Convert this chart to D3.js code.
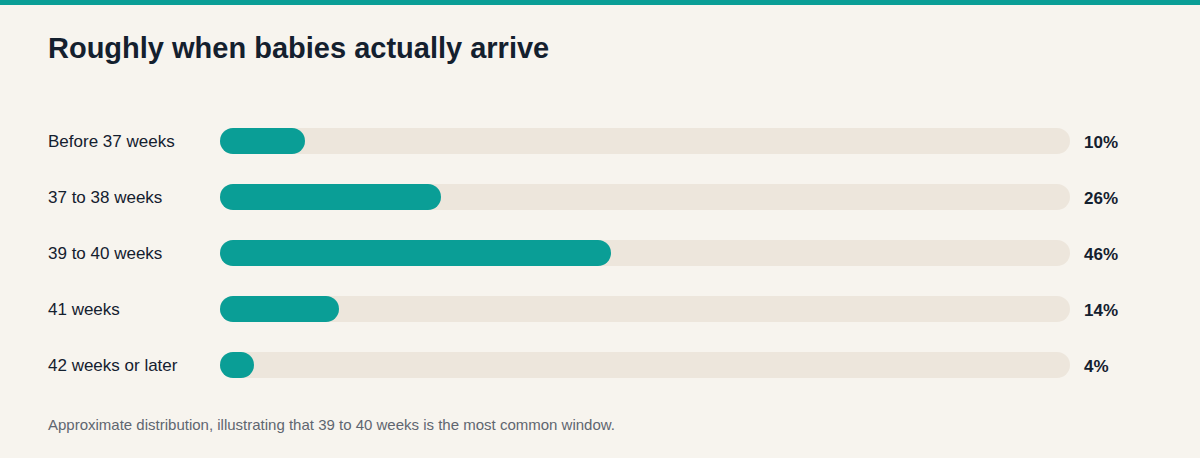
<!DOCTYPE html>
<html><head><meta charset="utf-8">
<script src="https://cdn.jsdelivr.net/npm/d3@7"></script>
<style>body{margin:0;background:#f7f4ee;font-family:"Liberation Sans",Arial,sans-serif}</style>
</head><body><svg id="c" width="1200" height="458"></svg>
<script>
const categories=["Before 37 weeks","37 to 38 weeks","39 to 40 weeks","41 weeks","42 weeks or later"];
const values=[10,26,46,14,4];
const valueLabels=["10%","26%","46%","14%","4%"];
const svg=d3.select("#c");
svg.append("rect").attr("width",1200).attr("height",458).attr("fill","#f7f4ee");
svg.append("rect").attr("width",1200).attr("height",5).attr("fill","#0a9e96");
svg.append("text").attr("x",48).attr("y",58).attr("font-size",29).attr("font-weight",700).attr("fill","#14202e").text("Roughly when babies actually arrive");
const x=d3.scaleLinear().domain([0,100]).range([220,1070]);
const y=d3.scaleBand().domain(categories).range([113,393]).paddingInner(0.536).paddingOuter(0.268);
const g=svg.selectAll(".row").data(categories).enter().append("g");
g.append("rect").attr("x",x(0)).attr("y",d=>y(d)).attr("width",x(100)-x(0)).attr("height",y.bandwidth()).attr("rx",y.bandwidth()/2).attr("fill","#ede6dc");
g.append("rect").attr("x",x(0)).attr("y",d=>y(d)).attr("width",(d,i)=>x(values[i])-x(0)).attr("height",y.bandwidth()).attr("rx",y.bandwidth()/2).attr("fill","#0a9e96");
g.append("text").attr("x",48).attr("y",d=>y(d)+y.bandwidth()/2).attr("dy","0.35em").attr("font-size",17).attr("fill","#14202e").text(d=>d);
g.append("text").attr("x",1084).attr("y",d=>y(d)+y.bandwidth()/2+1).attr("dy","0.35em").attr("font-size",17).attr("font-weight",700).attr("fill","#14202e").text((d,i)=>valueLabels[i]);
svg.append("text").attr("x",48).attr("y",430).attr("font-size",15).attr("fill","#5f6670").text("Approximate distribution, illustrating that 39 to 40 weeks is the most common window.");
</script></body></html>
